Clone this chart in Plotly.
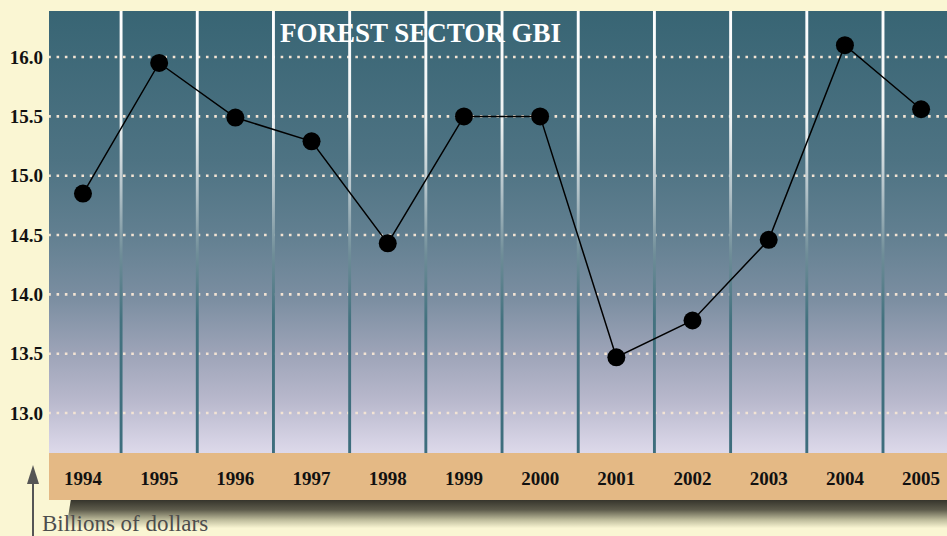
import plotly.graph_objects as go

# ---------------- data ----------------
years = ["1994", "1995", "1996", "1997", "1998", "1999",
         "2000", "2001", "2002", "2003", "2004", "2005"]
gbi_values = [14.85, 15.95, 15.49, 15.29, 14.43, 15.50,
              15.50, 13.47, 13.78, 14.46, 16.10, 15.56]
y_tick_values = [13.0, 13.5, 14.0, 14.5, 15.0, 15.5, 16.0]
y_tick_labels = ["13.0", "13.5", "14.0", "14.5", "15.0", "15.5", "16.0"]
chart_title = "FOREST SECTOR GBI"
unit_label = "Billions of dollars"

# ---------------- layout geometry ----------------
W, H = 947, 536
ML, MR, MT, MB = 49, 0, 11, 0
PW, PH = W - ML - MR, H - MT - MB
X_RANGE = [-0.446, 11.34]
Y_RANGE = [11.964, 16.388]
PANEL_BOTTOM = 12.663      # bottom of gradient panel / top of tan band
BAND_BOTTOM = 12.267       # bottom of tan band
SHADOW_BOTTOM = 12.03
LABEL_Y = 12.437

CREAM = "#faf6d3"
TAN = "#e4b985"

xi = list(range(len(years)))
x_left, x_right = X_RANGE[0] - 0.01, X_RANGE[1] + 0.01

def px_x(p):
    return (p - ML) / PW

def px_y(p):
    return (H - MB - p) / PH

fig = go.Figure()

# gradient panel
fig.add_trace(go.Scatter(
    x=[x_left, x_right, x_right, x_left, x_left],
    y=[PANEL_BOTTOM, PANEL_BOTTOM, Y_RANGE[1], Y_RANGE[1], PANEL_BOTTOM],
    mode="lines", line=dict(width=0), fill="toself",
    fillgradient=dict(type="vertical", colorscale=[
        [0.0, "#ddd9ea"], [0.03, "#d4d1e3"], [0.12, "#b8b8cc"],
        [0.23, "#9ca3b7"], [0.35, "#7b8ea1"], [0.5, "#617f90"],
        [0.66, "#4e7383"], [1.0, "#386574"]]),
    hoverinfo="skip", showlegend=False))

# dotted horizontal gridlines
for v in y_tick_values:
    fig.add_trace(go.Scatter(
        x=[x_left, x_right], y=[v, v], mode="lines",
        line=dict(color="#f3e4d4", width=2.6, dash="2.6px,5.7px"),
        hoverinfo="skip", showlegend=False))

# vertical separators (gradient white -> teal)
hw = 0.019
sx, sy = [], []
for k in range(len(years) - 1):
    c = k + 0.5
    sx += [c - hw, c + hw, c + hw, c - hw, c - hw, None]
    sy += [PANEL_BOTTOM, PANEL_BOTTOM, Y_RANGE[1], Y_RANGE[1], PANEL_BOTTOM, None]
fig.add_trace(go.Scatter(
    x=sx, y=sy, mode="lines", line=dict(width=0), fill="toself",
    fillgradient=dict(type="vertical", colorscale=[
        [0.0, "#3d6d7d"], [0.3, "#43727f"], [0.45, "#6f8d98"],
        [0.6, "#b5c4ca"], [0.75, "#eef2f2"], [1.0, "#ffffff"]]),
    hoverinfo="skip", showlegend=False))

# shadow under the tan band
fig.add_trace(go.Scatter(
    x=[-0.22, x_right, x_right, -0.16, -0.22],
    y=[SHADOW_BOTTOM, SHADOW_BOTTOM, BAND_BOTTOM, BAND_BOTTOM, SHADOW_BOTTOM],
    mode="lines", line=dict(width=0), fill="toself",
    fillgradient=dict(type="vertical", colorscale=[
        [0.0, CREAM], [0.3, "#bdbb9b"], [0.65, "#5e5c4c"], [1.0, "#36352c"]]),
    hoverinfo="skip", showlegend=False))

# tan band
fig.add_trace(go.Scatter(
    x=[x_left, x_right, x_right, x_left, x_left],
    y=[BAND_BOTTOM, BAND_BOTTOM, PANEL_BOTTOM, PANEL_BOTTOM, BAND_BOTTOM],
    mode="lines", line=dict(width=0), fill="toself", fillcolor=TAN,
    hoverinfo="skip", showlegend=False))

# year labels
fig.add_trace(go.Scatter(
    x=xi, y=[LABEL_Y] * len(xi), mode="text", text=years,
    textfont=dict(family="Liberation Serif", size=19, color="#111111", weight="bold"),
    hoverinfo="skip", showlegend=False))

# data series
fig.add_trace(go.Scatter(
    x=xi, y=gbi_values, mode="lines+markers",
    line=dict(color="#000000", width=1.5),
    marker=dict(color="#000000", size=18),
    hoverinfo="skip", showlegend=False))

fig.update_layout(
    width=W, height=H,
    margin=dict(l=ML, r=MR, t=MT, b=MB),
    paper_bgcolor=CREAM, plot_bgcolor=CREAM,
    showlegend=False, hovermode=False,
    xaxis=dict(range=X_RANGE, visible=False, fixedrange=True),
    yaxis=dict(range=Y_RANGE, showgrid=False, zeroline=False, showline=False,
               tickvals=y_tick_values, ticktext=y_tick_labels, ticks="",
               ticklabelstandoff=5,
               tickfont=dict(family="Liberation Serif", size=19, color="#111111",
                             weight="bold"),
               fixedrange=True),
    annotations=[
        dict(text=chart_title, xref="paper", yref="paper",
             x=px_x(420), y=px_y(33), xanchor="center", yanchor="middle",
             showarrow=False,
             font=dict(family="Liberation Serif", size=27, color="#ffffff",
                       weight="bold")),
        dict(text=unit_label, xref="paper", yref="paper",
             x=px_x(40), y=px_y(523), xanchor="left", yanchor="middle",
             showarrow=False,
             font=dict(family="Liberation Serif", size=23, color="#4d4d4d")),
    ],
    shapes=[
        dict(type="line", xref="paper", yref="paper",
             x0=px_x(33), x1=px_x(33), y0=px_y(480), y1=px_y(536),
             line=dict(color="#555555", width=2)),
        dict(type="path", xref="paper", yref="paper",
             path=f"M {px_x(33)},{px_y(465)} L {px_x(27)},{px_y(484)} "
                  f"L {px_x(39)},{px_y(484)} Z",
             fillcolor="#555555", line=dict(width=0)),
    ],
)

fig.write_html("out.html",
               config={"displayModeBar": False, "staticPlot": True},
               post_script="document.body.style.margin='0px';"
                           "document.body.style.background='" + CREAM + "';")
